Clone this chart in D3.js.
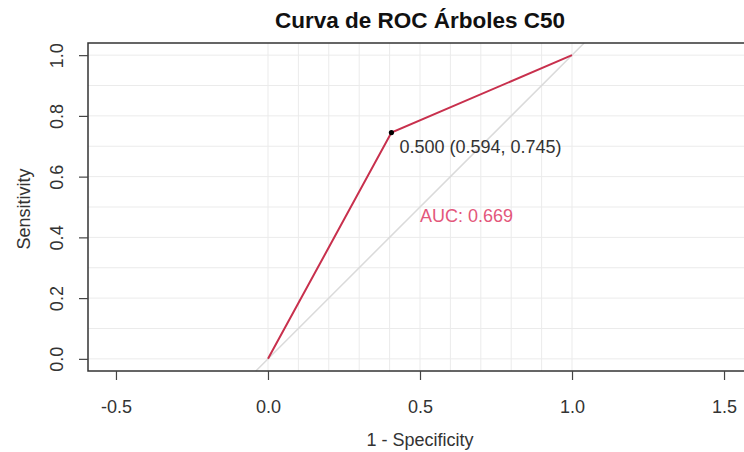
<!DOCTYPE html>
<html><head><meta charset="utf-8">
<script src="https://cdn.jsdelivr.net/npm/d3@7"></script>
<style>body{margin:0;background:#fff}svg{display:block}text{font-family:"Liberation Sans",Arial,sans-serif}</style>
</head><body><svg id="c" width="744" height="452"></svg>
<script>
const fpr = [0, 0.406, 1];          // 1 - Specificity
const tpr = [0, 0.745, 1];          // Sensitivity
const threshold = {thr: "0.500", spec: 0.594, sens: 0.745};
const aucText = "AUC: 0.669";
const xTicks = [-0.5, 0.0, 0.5, 1.0, 1.5];
const yTicks = [0.0, 0.2, 0.4, 0.6, 0.8, 1.0];
const gridVals = d3.range(0, 11).map(i => i / 10);

const FS = 18;
const svg = d3.select("#c");
const x = d3.scaleLinear().domain([-0.592, 1.592]).range([88, 752]);
const y = d3.scaleLinear().domain([-0.04, 1.04]).range([371, 43]);

const g = svg.append("g");
// grid
g.selectAll(".vg").data(gridVals).enter().append("line")
  .attr("x1", d => x(d)).attr("x2", d => x(d)).attr("y1", y(-0.04)).attr("y2", y(1.04))
  .attr("stroke", "#ebebeb").attr("stroke-width", 1);
g.selectAll(".hg").data(gridVals).enter().append("line")
  .attr("x1", x(-0.592)).attr("x2", x(1.592)).attr("y1", d => y(d)).attr("y2", d => y(d))
  .attr("stroke", "#ebebeb").attr("stroke-width", 1);
// identity
g.append("line").attr("x1", x(-0.04)).attr("y1", y(-0.04)).attr("x2", x(1.04)).attr("y2", y(1.04))
  .attr("stroke", "#dadada").attr("stroke-width", 1.5);
// ROC curve
g.append("path").datum(fpr.map((v, i) => [v, tpr[i]]))
  .attr("d", d3.line().x(d => x(d[0])).y(d => y(d[1])))
  .attr("fill", "none").attr("stroke", "#c8304d").attr("stroke-width", 2);
// threshold point
g.append("circle").attr("cx", x(1 - threshold.spec)).attr("cy", y(threshold.sens)).attr("r", 2.6).attr("fill", "#000");
g.append("text").attr("x", x(1 - threshold.spec) + 8).attr("y", y(threshold.sens) + 20)
  .attr("font-size", FS).attr("fill", "#333")
  .text(`${threshold.thr} (${threshold.spec.toFixed(3)}, ${threshold.sens.toFixed(3)})`);
g.append("text").attr("x", x(0.5)).attr("y", y(0.5) + 15)
  .attr("font-size", FS).attr("fill", "#e3577b").text(aucText);

// box
svg.append("rect").attr("x", 88).attr("y", 43).attr("width", 752 - 88).attr("height", 371 - 43)
  .attr("fill", "none").attr("stroke", "#333").attr("stroke-width", 1.5);

// x axis
const xa = svg.append("g").attr("transform", "translate(0,371)")
  .call(d3.axisBottom(x).tickValues(xTicks).tickFormat(d3.format(".1f")).tickSize(9).tickSizeOuter(0).tickPadding(20));
xa.select(".domain").remove();
xa.selectAll("line").attr("stroke", "#444").attr("stroke-width", 1.2);
xa.selectAll("text").attr("font-size", FS).attr("fill", "#333").style("font-family", "Liberation Sans, Arial, sans-serif")
  .text(d => d3.format(".1f")(d).replace("−", "-"));

// y axis
const ya = svg.append("g").attr("transform", "translate(88,0)")
  .call(d3.axisLeft(y).tickValues(yTicks).tickFormat(d3.format(".1f")).tickSize(9).tickSizeOuter(0));
ya.select(".domain").remove();
ya.selectAll("line").attr("stroke", "#444").attr("stroke-width", 1.2);
ya.selectAll("text").attr("font-size", FS).attr("fill", "#333").style("font-family", "Liberation Sans, Arial, sans-serif")
  .attr("x", null).attr("dy", null).attr("text-anchor", "middle")
  .attr("transform", "translate(-31,0) rotate(-90)").attr("dy", "0.35em");

// titles
svg.append("text").attr("x", 420).attr("y", 28).attr("text-anchor", "middle")
  .attr("font-size", 22.5).attr("font-weight", "bold").attr("fill", "#111").text("Curva de ROC Árboles C50");
svg.append("text").attr("x", 420).attr("y", 446).attr("text-anchor", "middle")
  .attr("font-size", FS).attr("fill", "#333").text("1 - Specificity");
svg.append("text").attr("transform", "translate(24,209) rotate(-90)").attr("text-anchor", "middle").attr("dy", "0.35em")
  .attr("font-size", FS).attr("fill", "#333").text("Sensitivity");
</script></body></html>
